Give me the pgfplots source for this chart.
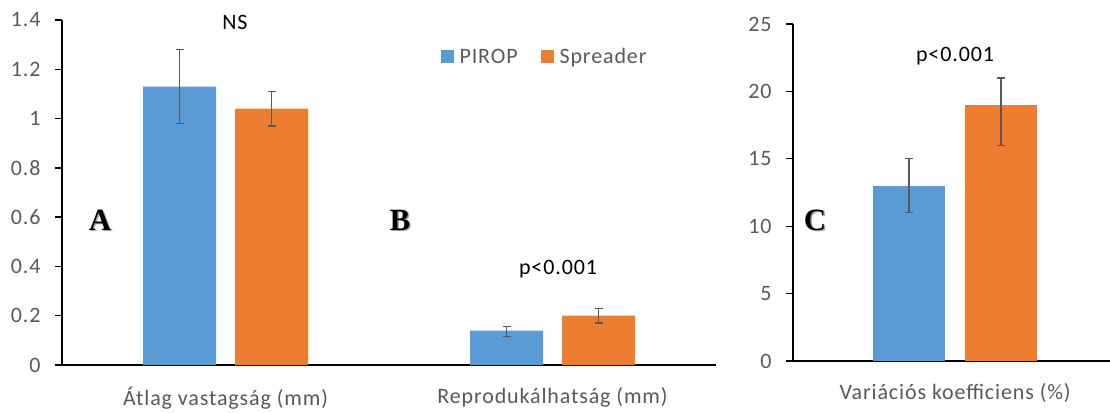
\documentclass[border=0pt]{standalone}
\usepackage{pgfplots}
\usepackage{pgfplotstable}
\pgfplotsset{compat=1.18}
\usepackage{fontspec}
\setmainfont{Carlito}[LetterSpace=4]
\newfontfamily\timesfont{Liberation Serif}
\definecolor{cblue}{HTML}{5B9BD5}
\definecolor{corange}{HTML}{ED7D31}
\definecolor{tgray}{HTML}{595959}

\pgfplotstableread{
x y ep em
0 1.13 0.15 0.15
1 0.14 0.015 0.025
}\piropAB
\pgfplotstableread{
x y ep em
0 1.04 0.07 0.07
1 0.20 0.03 0.03
}\spreadAB
\pgfplotstableread{
x y ep em
0 13 2 2
}\piropC
\pgfplotstableread{
x y ep em
0 19 2 3
}\spreadC

\pgfplotsset{
  mybar/.style={
    scale only axis,
    axis x line=bottom, axis y line=left,
    axis line style={line width=2bp, black, -},
    major x tick style={draw=none},
    major tick length=7bp,
    y tick style={black, line width=1.3bp},
    tick align=outside,
    ticklabel style={font=\fontsize{22bp}{26bp}\selectfont, text=tgray},
    /pgf/number format/assume math mode=true,
    yticklabel style={xshift=-11bp},
    xticklabel style={yshift=-12bp},
    clip=false,
    ymin=0,
  },
  barplot/.style={
    draw=none,
    error bars/y dir=both, error bars/y explicit,
    error bars/error bar style={tgray, line width=1.3bp},
    error bars/error mark options={rotate=90, mark size=4bp, line width=1.3bp, tgray},
    legend image code/.code={\fill[##1] (0bp,-6.5bp) rectangle (13bp,6.5bp); \path (-21bp,0bp) (17bp,0bp);},
  },
}

\begin{document}
\begin{tikzpicture}[x=1bp,y=1bp]
\useasboundingbox (0,0) rectangle (1110,412);

\begin{axis}[mybar,
  at={(62bp,47bp)}, anchor=south west,
  width=654bp, height=345bp,
  ybar=19bp, bar width=73bp,
  xmin=-0.5, xmax=1.5, ymax=1.4,
  xtick={0,1},
  xticklabels={Átlag vastagság (mm), Reprodukálhatság (mm)},
  ytick={0,0.2,0.4,0.6,0.8,1,1.2,1.4},
  legend columns=2,
  legend style={at={(0.7217,0.893)}, anchor=center, draw=none, fill=none,
    font=\fontsize{22bp}{26bp}\selectfont, text=tgray},
]
\addplot[barplot, fill=cblue] table[x=x, y=y, y error plus=ep, y error minus=em]{\piropAB};
\addlegendentry{PIROP}
\addplot[barplot, fill=corange] table[x=x, y=y, y error plus=ep, y error minus=em]{\spreadAB};
\addlegendentry{Spreader}
\end{axis}

\begin{axis}[mybar,
  at={(793bp,51bp)}, anchor=south west,
  width=317bp, height=337bp,
  ybar=20bp, bar width=72bp,
  xmin=-0.5, xmax=0.478, ymax=25,
  xtick={0},
  xticklabels={Variációs koefficiens (\%)},
  ytick={0,5,10,15,20,25},
]
\addplot[barplot, fill=cblue] table[x=x, y=y, y error plus=ep, y error minus=em]{\piropC};
\addplot[barplot, fill=corange] table[x=x, y=y, y error plus=ep, y error minus=em]{\spreadC};
\end{axis}

\begin{scope}[font=\fontsize{22bp}{26bp}\selectfont]
\node at (235,390) {NS};
\node at (558,143) {p<0.001};
\node at (955,356) {p<0.001};
\end{scope}

\begin{scope}[font=\fontsize{31bp}{36bp}\timesfont\bfseries]
\foreach \lx/\lt in {100/A, 400/B, 815/C}{
  \node[text=black!35] at (\lx+1.5,190.5) {\lt};
  \node[text=black] at (\lx,192) {\lt};
}
\end{scope}
\end{tikzpicture}
\end{document}
